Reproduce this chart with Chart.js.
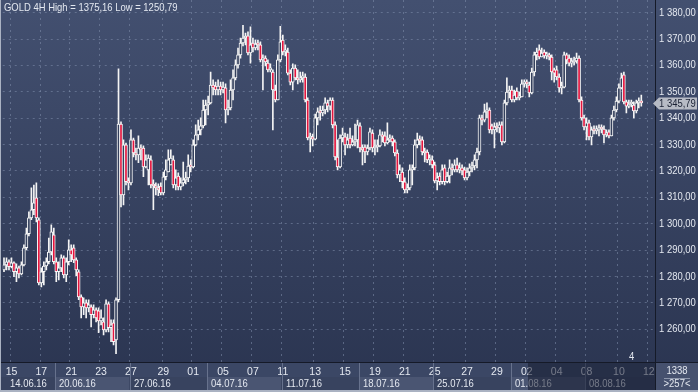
<!DOCTYPE html>
<html>
<head>
<meta charset="utf-8">
<title>GOLD 4H</title>
<script src="https://cdn.jsdelivr.net/npm/chart.js@4.4.1/dist/chart.umd.min.js"></script>
<style>
  html, body { margin: 0; padding: 0; background: #2f3a56; }
  #wrap { position: relative; width: 698px; height: 392px; }
</style>
</head>
<body>
<div id="wrap"><canvas id="gold-chart" width="698" height="392"></canvas></div>
<script>
// GOLD 4H candles
const open = [
  1282.5,1284.4,1285.6,1283.7,1285.2,1281.8,1283.3,1281.0,1284.4,1290.9,
  1296.2,1302.2,1305.3,1309.8,1301.5,1277.6,1281.8,1284.0,1285.6,1289.3,
  1295.8,1285.6,1281.8,1283.3,1287.1,1280.6,1285.6,1290.1,1290.9,1286.3,
  1281.8,1272.3,1268.5,1270.0,1268.1,1268.5,1265.5,1267.4,1267.0,1263.2,
  1262.8,1259.8,1269.6,1260.6,1262.4,1256.0,1271.2,1337.8,1310.9,1329.9,
  1315.9,1315.5,1331.8,1326.8,1326.1,1328.7,1328.7,1321.5,1320.4,1324.2,
  1314.7,1314.3,1313.6,1314.3,1311.7,1317.8,1319.6,1322.3,1324.2,1314.7,
  1318.1,1314.0,1315.5,1316.6,1317.4,1322.3,1321.5,1329.9,1333.7,1335.6,
  1337.1,1343.1,1345.0,1345.8,1352.6,1352.2,1350.7,1352.2,1350.7,1351.5,
  1343.1,1343.9,1350.7,1355.3,1360.2,1364.0,1368.5,1370.4,1371.2,1364.7,
  1368.5,1366.6,1368.1,1367.8,1362.1,1362.8,1360.9,1358.3,1357.5,1350.7,
  1346.9,1362.1,1369.6,1365.1,1365.1,1357.1,1353.7,1359.0,1355.3,1354.5,
  1355.3,1355.6,1346.9,1332.5,1332.9,1332.1,1340.1,1342.4,1342.0,1343.1,
  1345.8,1344.6,1346.9,1337.5,1325.3,1321.5,1332.5,1332.9,1329.9,1332.5,
  1329.9,1331.0,1331.8,1337.1,1328.7,1329.1,1327.2,1328.7,1334.4,1328.7,
  1329.1,1329.5,1333.7,1333.3,1330.6,1331.8,1332.5,1331.0,1326.8,1318.5,
  1319.6,1315.9,1312.8,1313.6,1320.4,1321.2,1329.9,1331.8,1331.8,1327.2,
  1327.2,1324.2,1324.2,1322.3,1316.2,1318.1,1315.9,1321.2,1315.9,1318.1,
  1321.2,1320.4,1322.3,1320.4,1321.2,1320.4,1317.4,1319.6,1321.2,1321.9,
  1324.2,1327.2,1340.1,1339.3,1342.4,1343.1,1337.1,1335.6,1336.7,1336.3,
  1337.5,1331.0,1345.8,1349.9,1350.7,1346.9,1350.3,1347.7,1348.1,1353.0,
  1353.4,1352.6,1349.6,1357.5,1364.0,1365.9,1363.2,1365.1,1363.6,1364.0,
  1363.2,1358.3,1358.3,1355.6,1351.5,1351.8,1364.0,1362.8,1360.9,1361.3,
  1361.7,1362.8,1346.9,1340.1,1336.7,1338.2,1332.9,1335.6,1335.2,1335.6,
  1336.3,1335.9,1333.7,1334.8,1333.3,1340.1,1343.1,1346.5,1351.5,1356.4,
  1346.2,1344.6,1345.4,1345.0,1342.8,1345.8,1346.2
];
const high = [
  1287.1,1287.1,1286.3,1287.1,1285.6,1284.8,1284.0,1285.6,1292.0,1298.4,
  1304.5,1313.6,1314.7,1315.5,1302.2,1283.3,1285.6,1287.1,1294.6,1299.6,
  1298.4,1287.1,1285.6,1288.2,1287.8,1287.1,1293.9,1292.0,1292.0,1287.1,
  1282.5,1273.1,1271.9,1271.2,1271.2,1269.3,1269.3,1268.1,1268.1,1267.4,
  1264.3,1271.2,1270.4,1263.6,1263.6,1271.9,1358.7,1338.6,1331.8,1330.6,
  1317.4,1335.6,1332.5,1328.7,1333.3,1329.9,1329.5,1326.1,1326.1,1325.7,
  1316.6,1315.5,1315.1,1315.5,1319.6,1324.2,1328.0,1328.0,1325.7,1320.4,
  1319.3,1317.4,1323.4,1319.6,1326.1,1324.2,1331.8,1337.5,1339.3,1340.1,
  1346.9,1346.9,1348.4,1357.5,1354.5,1353.7,1354.5,1353.7,1353.7,1353.0,
  1346.9,1354.5,1358.3,1362.1,1366.6,1370.4,1375.16,1372.3,1372.7,1374.6,
  1370.4,1369.6,1369.6,1368.9,1364.0,1363.6,1362.1,1360.6,1358.3,1352.6,
  1364.0,1374.8,1371.5,1367.8,1366.6,1358.3,1360.6,1360.2,1358.3,1357.5,
  1357.5,1356.8,1347.7,1334.4,1334.0,1341.6,1343.9,1344.6,1344.6,1347.7,
  1346.9,1347.7,1347.7,1338.6,1331.8,1333.7,1336.3,1334.4,1334.0,1336.3,
  1333.3,1337.8,1339.3,1338.2,1329.9,1329.9,1329.9,1336.3,1335.6,1331.8,
  1331.8,1335.6,1334.8,1334.8,1338.2,1333.7,1333.3,1331.8,1328.0,1322.3,
  1321.2,1317.4,1315.1,1322.3,1322.3,1331.8,1334.4,1333.3,1332.9,1328.7,
  1328.0,1326.1,1325.7,1323.4,1319.3,1319.3,1322.3,1322.3,1319.6,1324.2,
  1322.7,1324.2,1324.9,1323.1,1322.3,1321.5,1321.2,1322.7,1323.4,1326.1,
  1328.7,1341.2,1341.2,1345.4,1345.8,1343.9,1337.8,1338.2,1338.2,1338.6,
  1338.6,1346.9,1355.3,1352.2,1352.2,1350.7,1351.5,1349.9,1354.5,1354.5,
  1354.5,1353.7,1359.0,1365.1,1366.6,1367.8,1366.6,1365.9,1365.1,1364.7,
  1364.0,1359.0,1359.8,1356.8,1353.7,1365.1,1364.7,1364.0,1362.8,1363.2,
  1364.7,1363.6,1348.1,1341.2,1340.1,1339.3,1336.7,1337.1,1337.1,1337.5,
  1337.5,1337.1,1335.6,1335.6,1341.2,1344.6,1348.1,1353.0,1357.1,1357.5,
  1346.9,1346.9,1346.9,1346.2,1346.9,1347.7,1348.8
];
const low = [
  1281.8,1282.5,1282.5,1283.3,1279.9,1278.0,1279.5,1280.6,1284.0,1290.1,
  1295.4,1301.5,1303.4,1300.7,1276.8,1276.1,1276.8,1282.5,1284.8,1288.2,
  1284.8,1278.0,1278.7,1281.8,1279.5,1278.0,1284.4,1285.6,1285.2,1280.3,
  1271.2,1264.3,1265.5,1264.3,1266.6,1260.9,1264.3,1262.8,1258.7,1261.7,
  1257.9,1259.0,1259.0,1255.3,1254.1,1250.79,1270.4,1306.4,1307.1,1314.7,
  1312.8,1314.7,1325.3,1324.2,1323.1,1324.2,1317.8,1321.2,1314.7,1313.6,
  1305.3,1310.9,1310.6,1310.9,1310.9,1316.6,1319.6,1322.3,1313.6,1312.8,
  1312.8,1312.8,1314.3,1315.1,1315.9,1319.6,1321.2,1329.5,1331.8,1333.7,
  1336.3,1337.5,1341.2,1345.4,1348.8,1348.8,1348.8,1348.8,1349.6,1338.2,
  1341.2,1343.1,1346.9,1354.5,1359.0,1362.8,1367.4,1367.8,1364.0,1360.9,
  1365.1,1365.9,1365.9,1361.3,1350.7,1359.8,1357.5,1357.5,1335.6,1346.2,
  1346.9,1361.3,1364.0,1363.6,1356.4,1352.6,1350.7,1354.5,1353.0,1353.7,
  1353.7,1346.2,1331.8,1327.2,1329.5,1331.8,1337.5,1339.3,1340.9,1341.6,
  1342.4,1343.1,1336.3,1324.2,1320.4,1321.2,1331.0,1326.1,1328.7,1328.7,
  1329.5,1329.5,1328.7,1327.2,1322.3,1323.1,1326.1,1328.0,1327.2,1326.1,
  1327.2,1329.1,1331.0,1329.5,1330.3,1331.0,1329.5,1325.7,1317.4,1315.9,
  1313.6,1311.7,1311.7,1312.8,1314.7,1320.4,1328.7,1329.9,1326.1,1323.4,
  1323.1,1322.3,1321.2,1315.5,1312.8,1314.7,1315.1,1314.7,1315.5,1315.5,
  1318.5,1319.6,1319.6,1319.3,1318.5,1316.6,1316.6,1318.1,1319.6,1320.4,
  1321.2,1326.1,1337.5,1338.6,1340.1,1334.4,1334.0,1328.7,1334.8,1334.4,
  1329.9,1330.6,1345.0,1347.7,1346.2,1346.2,1346.9,1346.9,1348.1,1351.8,
  1351.5,1348.1,1349.2,1356.0,1362.1,1362.5,1363.2,1362.8,1362.5,1362.1,
  1354.5,1353.7,1354.5,1349.9,1349.2,1351.5,1360.6,1359.8,1359.4,1360.2,
  1360.9,1346.2,1339.3,1335.6,1331.8,1331.8,1329.9,1334.0,1334.0,1333.3,
  1334.4,1330.6,1332.9,1332.5,1333.3,1339.3,1342.4,1345.8,1351.1,1345.4,
  1342.0,1343.9,1344.3,1340.1,1342.0,1343.9,1344.6
];
const close = [
  1284.4,1285.6,1283.7,1285.2,1281.8,1283.3,1281.0,1284.4,1290.9,1296.2,
  1302.2,1305.3,1307.9,1302.2,1277.6,1281.8,1284.0,1285.6,1289.3,1296.9,
  1285.6,1281.8,1283.3,1287.1,1280.6,1285.6,1290.1,1288.2,1286.3,1282.5,
  1272.3,1268.5,1270.0,1268.1,1269.3,1265.5,1267.4,1264.3,1263.2,1264.3,
  1259.8,1269.6,1260.6,1261.7,1255.3,1271.2,1337.8,1310.9,1329.9,1315.9,
  1315.5,1331.8,1326.8,1326.1,1328.7,1328.0,1321.5,1324.2,1324.9,1314.7,
  1314.3,1313.6,1312.8,1311.7,1317.8,1320.4,1324.2,1324.9,1314.7,1317.4,
  1314.0,1315.5,1316.6,1317.4,1321.9,1321.5,1329.9,1333.7,1335.6,1337.1,
  1343.1,1345.0,1345.8,1352.6,1351.5,1350.7,1352.2,1350.7,1351.8,1343.1,
  1343.9,1350.7,1355.3,1360.2,1364.0,1368.5,1370.4,1370.8,1364.7,1367.8,
  1366.6,1368.1,1367.8,1362.1,1362.8,1361.3,1358.3,1359.0,1350.7,1346.9,
  1362.1,1368.9,1365.1,1365.9,1357.1,1353.7,1359.0,1355.3,1354.5,1355.3,
  1355.6,1346.9,1332.5,1332.9,1332.1,1340.1,1342.4,1342.0,1343.1,1345.8,
  1344.6,1346.9,1337.5,1325.3,1321.5,1332.5,1333.7,1329.9,1331.8,1329.9,
  1331.0,1331.8,1337.5,1328.7,1328.0,1327.2,1328.7,1334.8,1328.7,1329.1,
  1329.5,1333.7,1332.9,1330.6,1331.8,1332.1,1331.0,1326.8,1318.5,1320.4,
  1315.9,1312.8,1313.6,1320.4,1321.2,1329.9,1331.8,1331.4,1327.2,1326.8,
  1324.2,1324.9,1322.3,1316.2,1317.4,1315.9,1320.4,1315.9,1318.1,1321.2,
  1320.4,1322.3,1320.4,1321.2,1320.0,1317.4,1319.6,1321.2,1321.9,1324.2,
  1327.2,1340.1,1339.3,1342.4,1343.1,1335.6,1335.6,1336.7,1336.3,1337.5,
  1331.0,1345.8,1349.9,1350.3,1346.9,1348.8,1347.7,1348.1,1353.0,1353.4,
  1353.0,1349.6,1357.5,1364.0,1365.1,1363.2,1364.7,1363.6,1364.0,1363.2,
  1357.5,1357.1,1355.6,1351.5,1351.8,1364.0,1362.1,1360.9,1361.3,1361.7,
  1362.8,1346.9,1340.1,1336.7,1338.2,1332.9,1335.6,1335.2,1335.6,1336.3,
  1335.9,1333.7,1334.0,1333.3,1340.1,1343.1,1346.5,1351.5,1355.3,1346.2,
  1344.6,1345.4,1345.8,1342.8,1345.8,1346.2,1345.79
];

// trading days on the time axis and how many 4H slots each one takes
const days = [
  '14.06.16','15.06.16','16.06.16','17.06.16','20.06.16','21.06.16','22.06.16','23.06.16','24.06.16',
  '27.06.16','28.06.16','29.06.16','30.06.16','01.07.16','04.07.16','05.07.16','06.07.16','07.07.16',
  '08.07.16','11.07.16','12.07.16','13.07.16','14.07.16','15.07.16','18.07.16','19.07.16','20.07.16',
  '21.07.16','22.07.16','25.07.16','26.07.16','27.07.16','28.07.16','29.07.16','01.08.16','02.08.16',
  '03.08.16','04.08.16','05.08.16','08.08.16','09.08.16','10.08.16','11.08.16','12.08.16'
];
const barsPerDay = [
  3,6,6,6,6,6,6,6,6,
  7,6,6,6,6,6,6,6,6,
  6,6,7,6,6,6,6,6,6,
  6,6,7,6,6,6,6,6,6,
  6,6,6,7,6,6,6,3
];
const tickDays = [
  '15.06.16','17.06.16','21.06.16','23.06.16','27.06.16','29.06.16','01.07.16','05.07.16',
  '07.07.16','11.07.16','13.07.16','15.07.16','19.07.16','21.07.16','25.07.16','27.07.16',
  '29.07.16','02.08.16','04.08.16','08.08.16','10.08.16','12.08.16'
];
const weekDays = ['14.06.16','20.06.16','27.06.16','04.07.16','11.07.16','18.07.16','25.07.16','01.08.16','08.08.16'];
const yTicks = [1260, 1270, 1280, 1290, 1300, 1310, 1320, 1330, 1340, 1350, 1360, 1370, 1380];

const title = 'GOLD 4H High = 1375,16 Low = 1250,79';
const footTop = '1338';
const footBottom = '>257<';

const FONT = '11px "Liberation Sans", Arial, sans-serif';
const NARROW = 0.86; // the terminal font is a narrow one
const TEXT = '#e4e8f0';
const GRID = 'rgba(128, 142, 172, 0.55)';
const RED = '#e3153e';
const BULL_FILL = '#34405d';

// one category per 4H slot
const labels = [];
days.forEach((d, i) => {
  for (let k = 0; k < barsPerDay[i]; k++) labels.push(d);
});
const dayText = labels.map((d, i) =>
  (i === 0 || labels[i - 1] !== d) && tickDays.includes(d) ? d.slice(0, 2) : ''
);

const wicks = low.map((l, i) => [l, high[i]]);
const bodies = open.map((o, i) => [o, close[i]]);
const bodyColors = open.map((o, i) => close[i] < o ? RED : BULL_FILL);

const formatPrice = (v, dec) => {
  const s = v.toFixed(dec).replace('.', ',');
  return s.charAt(0) + ' ' + s.slice(1);
};

function narrowText(ctx, text, x, y, align, color) {
  ctx.save();
  ctx.translate(x, y);
  ctx.scale(NARROW, 1);
  ctx.font = FONT;
  ctx.textAlign = align;
  ctx.textBaseline = 'middle';
  ctx.fillStyle = color;
  ctx.fillText(text, 0, 0);
  ctx.restore();
}

const decor = {
  id: 'decor',
  beforeDraw(chart) {
    const { ctx, chartArea: a } = chart;
    const W = chart.width, H = chart.height;
    ctx.save();
    const g = ctx.createLinearGradient(0, 0, 0, H);
    g.addColorStop(0, '#435070');
    g.addColorStop(1, '#2a3450');
    ctx.fillStyle = g;
    ctx.fillRect(0, 0, W, H);

    // time axis rows
    const xs = chart.scales.x;
    const half = (xs.getPixelForValue(1) - xs.getPixelForValue(0)) / 2;
    ctx.fillStyle = '#3b4765';
    ctx.fillRect(0, a.bottom, a.right, 15);
    weekDays.forEach((w, k) => {
      const s = labels.indexOf(w);
      const e = k + 1 < weekDays.length ? labels.indexOf(weekDays[k + 1]) : labels.length;
      const x0 = k === 0 ? 0 : xs.getPixelForValue(s) - half;
      const x1 = k + 1 < weekDays.length ? xs.getPixelForValue(e) - half : a.right;
      ctx.fillStyle = k % 2 ? '#4a5572' : '#38435f';
      ctx.fillRect(x0, a.bottom + 15, x1 - x0, H - a.bottom - 17);
    });
    ctx.restore();
  },
  afterDraw(chart) {
    const { ctx, chartArea: a } = chart;
    const W = chart.width, H = chart.height;
    const xs = chart.scales.x, ys = chart.scales.y;
    const half = (xs.getPixelForValue(1) - xs.getPixelForValue(0)) / 2;
    ctx.save();

    // price labels of the right axis
    ys.ticks.forEach(t => {
      narrowText(ctx, formatPrice(t.value, 2), a.right + 4, ys.getPixelForValue(t.value), 'left', TEXT);
    });

    // week labels and separators
    weekDays.forEach((w, k) => {
      const s = labels.indexOf(w);
      const x0 = k === 0 ? 0 : Math.round(xs.getPixelForValue(s) - half);
      if (k > 0) {
        ctx.fillStyle = '#67728d';
        ctx.fillRect(x0, a.bottom, 1, H - a.bottom - 2);
      }
      narrowText(ctx, w, k === 0 ? 10 : x0 + 4, a.bottom + 22, 'left', TEXT);
    });

    // darker scrolled part of the time axis
    ctx.fillStyle = 'rgba(22, 28, 48, 0.55)';
    ctx.fillRect(528, a.bottom + 1, a.right - 528, H - a.bottom - 3);

    // frame lines
    ctx.fillStyle = '#151a28';
    ctx.fillRect(0, a.bottom, W, 1);
    ctx.fillRect(a.right, 0, 1, H);
    ctx.fillStyle = '#aab2c2';
    ctx.fillRect(0, 0, 1, H);
    ctx.fillRect(0, H - 2, W, 2);

    // corner box
    ctx.fillStyle = '#46516e';
    ctx.fillRect(a.right + 1, a.bottom + 1, W - a.right - 1, H - a.bottom - 3);
    const cx = (a.right + W) / 2 + 0.5;
    narrowText(ctx, footTop, cx, a.bottom + 9, 'center', TEXT);
    ctx.fillStyle = '#8e97ac';
    ctx.fillRect(cx - 13, a.bottom + 16, 26, 1);
    narrowText(ctx, footBottom, cx, a.bottom + 22, 'center', TEXT);

    // small bar counter in the plot
    narrowText(ctx, '4', 629, a.bottom - 5, 'left', TEXT);

    // current price tag
    const last = close[close.length - 1];
    const py = Math.round(ys.getPixelForValue(last)) + 0.5;
    ctx.beginPath();
    ctx.moveTo(a.right - 2, py);
    ctx.lineTo(a.right + 4, py - 6);
    ctx.lineTo(W - 1, py - 6);
    ctx.lineTo(W - 1, py + 6);
    ctx.lineTo(a.right + 4, py + 6);
    ctx.closePath();
    ctx.fillStyle = '#b7bbc5';
    ctx.fill();
    narrowText(ctx, formatPrice(last, 2), a.right + 4, py, 'left', '#1b2234');

    // title
    narrowText(ctx, title, 4, 8, 'left', TEXT);
    ctx.restore();
  }
};

const ctx = document.getElementById('gold-chart');
new Chart(ctx, {
  type: 'bar',
  data: {
    labels: labels,
    datasets: [
      {
        label: 'wick',
        data: wicks,
        backgroundColor: '#f4f4f4',
        barThickness: 1,
        grouped: false,
        order: 2
      },
      {
        label: 'body',
        data: bodies,
        backgroundColor: bodyColors,
        borderColor: '#f8f8f8',
        borderWidth: 1,
        borderSkipped: false,
        barThickness: 3,
        minBarLength: 2,
        grouped: false,
        order: 1
      }
    ]
  },
  options: {
    responsive: false,
    animation: false,
    layout: { padding: 0 },
    plugins: {
      legend: { display: false },
      tooltip: { enabled: false }
    },
    scales: {
      x: {
        type: 'category',
        offset: true,
        grid: {
          offset: true,
          drawTicks: false,
          color: (c) => dayText[c.index] ? GRID : 'rgba(0,0,0,0)'
        },
        border: { display: false, dash: [2, 4] },
        ticks: {
          autoSkip: false,
          maxRotation: 0,
          padding: 4,
          color: TEXT,
          font: { family: '"Liberation Sans", Arial, sans-serif', size: 10.5 },
          callback: (v, i) => dayText[i]
        },
        afterFit: (s) => { s.height = 30; }
      },
      y: {
        position: 'right',
        min: 1247.6,
        max: 1384.8,
        afterBuildTicks: (s) => { s.ticks = yTicks.map(v => ({ value: v })); },
        grid: { drawTicks: false, color: GRID },
        border: { display: false, dash: [2, 4] },
        ticks: { display: false },
        afterFit: (s) => { s.width = 43; }
      }
    }
  },
  plugins: [decor]
});
</script>
</body>
</html>
